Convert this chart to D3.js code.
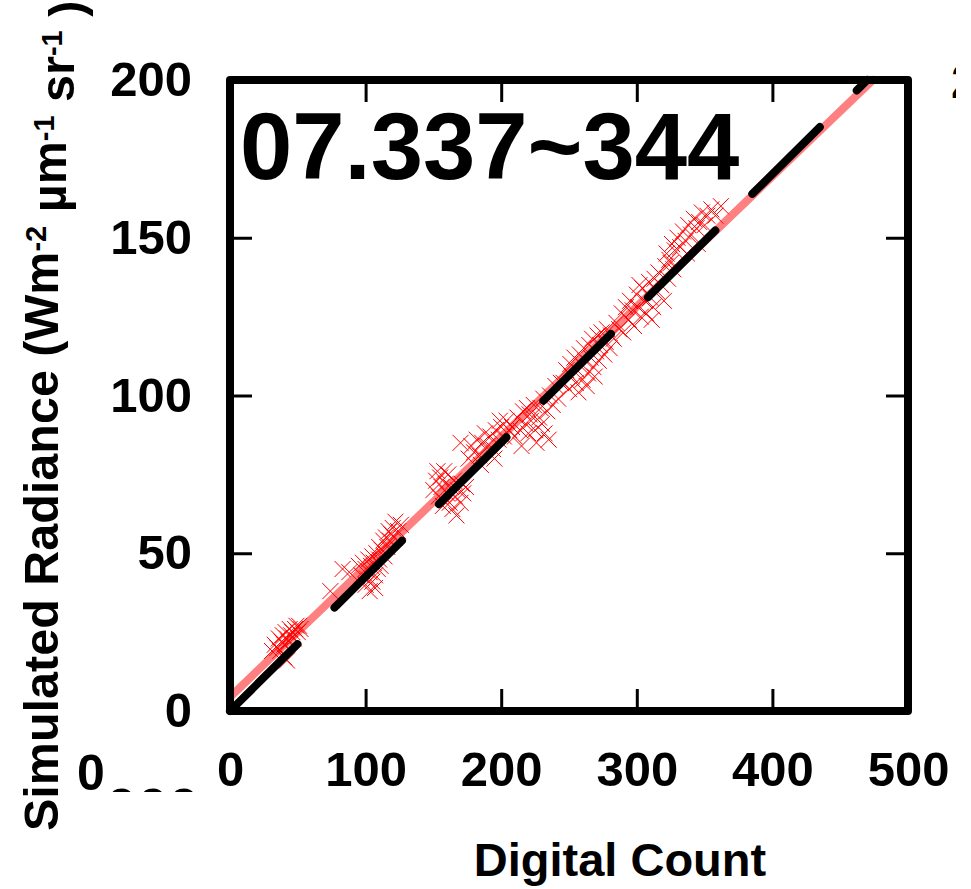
<!DOCTYPE html>
<html>
<head>
<meta charset="utf-8">
<script src="https://cdn.jsdelivr.net/npm/d3@7/dist/d3.min.js"></script>
<style>
  body { margin: 0; background: #fff; }
  #chart { width: 971px; height: 889px; }
  text { font-family: "Liberation Sans", Arial, sans-serif; font-weight: bold; fill: #000; }
</style>
</head>
<body>
<div id="chart"></div>
<script>
// ||================================||
// || DATA                           ||
// ||================================||

var title = "07.337~344"

var xTicks = [0, 100, 200, 300, 400, 500]
var yTicks = [0, 50, 100, 150, 200]

// [digital count, simulated radiance]
var samples = [
  [31,19],[33,21],[35,20],[36,23],[38,22],[39,24],[40,21],[41,25],[42,23],[43,22],[44,26],
  [45,24],[46,25],[47,23],[48,26],[49,27],[50,25],[51,27],[52,26],[40,17],[42,16],[37,19],
  [74,38],[83,45],[88,44],[95,46],[97,43],[98,47],[100,45],[101,42],[102,48],[103,44],[104,46],
  [105,41],[105,49],[106,47],[107,43],[108,50],[109,45],[110,48],[110,52],[111,46],[112,51],
  [113,54],[114,49],[115,55],[116,52],[117,57],[118,54],[119,56],[120,58],[121,55],[122,60],
  [124,57],[126,59],[103,38],[107,39],[100,40],
  [150,70],[152,73],[154,68],[155,74],[156,71],[158,76],[159,72],[160,69],[161,75],[162,66],
  [163,71],[164,64],[165,73],[166,68],[167,62],[168,70],[170,66],[171,72],[172,69],[174,71],
  [153,76],[157,65],
  [176,80],[178,84],[180,82],[182,86],[184,81],[186,85],[188,88],[190,84],[192,87],[194,83],
  [196,89],[198,86],[200,90],[202,87],[204,92],[206,89],[185,78],[195,80],[199,92],[170,85],
  [208,90],[210,87],[212,93],[214,89],[216,95],[218,91],[220,88],[221,94],[222,92],[224,97],
  [225,89],[226,85],[228,93],[229,96],[230,91],[231,99],[232,88],[234,95],[235,86],[236,100],
  [238,97],[240,103],[242,99],[244,104],[215,84],[219,96],
  [246,104],[248,108],[250,102],[251,110],[252,106],[254,112],[255,104],[256,108],[258,113],
  [259,110],[260,105],[261,115],[262,111],[264,107],[265,116],[266,112],[267,118],[268,109],
  [270,114],[271,119],[272,111],[273,116],[274,120],[276,113],[277,117],[278,121],[280,115],
  [281,119],[257,101],[263,103],[269,106],
  [283,118],[285,123],[287,121],[289,126],[290,120],[292,128],[294,124],[295,130],[297,127],
  [298,122],[300,132],[301,128],[303,125],[304,134],[306,130],[307,126],[309,136],[310,131],
  [312,128],[313,137],[315,133],[316,139],[318,135],[320,130],[321,141],[323,137],[325,142],
  [311,124],[302,135],
  [322,145],[324,143],[326,148],[328,146],[330,150],[332,147],[334,152],[336,149],[338,154],
  [340,151],[342,156],[344,153],[346,155],[348,158],[350,154],[352,157],[355,159],[358,157],
  [362,160],[345,148],[337,145],[327,140]
]

// fitted line and reference line, end points
var fitLine = [[0, 4.4], [474, 200]]
var refLine = [[0, 0], [470, 200]]

// ||================================||
// || SETUP                          ||
// ||================================||

var width = 971,
    height = 889;

var margin = {left: 230, right: 63, top: 80, bottom: 178}

var svg = d3.select("#chart")
  .append("svg")
    .attr("width", width)
    .attr("height", height);

var x = d3.scaleLinear()
    .domain([0, 500])
    .range([margin.left, width - margin.right]);

var y = d3.scaleLinear()
    .domain([0, 200])
    .range([height - margin.bottom, margin.top]);

// stray labels from neighbouring panels, clipped like the source
var defs = svg.append("defs")
defs.append("clipPath").attr("id", "clip-bottom")
  .append("rect").attr("x", 0).attr("y", 0).attr("width", 220).attr("height", 792)
defs.append("clipPath").attr("id", "clip-right")
  .append("rect").attr("x", 940).attr("y", 0).attr("width", 16).attr("height", 200)

svg.append("text")
    .attr("x", 91).attr("y", 790)
    .attr("text-anchor", "middle")
    .style("font-size", "50px")
    .text("0")

svg.append("text")
    .attr("x", 106).attr("y", 827)
    .attr("clip-path", "url(#clip-bottom)")
    .style("font-size", "56px")
    .text("000")

svg.append("text")
    .attr("x", 951).attr("y", 98)
    .attr("clip-path", "url(#clip-right)")
    .style("font-size", "48px")
    .text("200")

// ||================================||
// || MARKS                          ||
// ||================================||

var line = d3.line()
    .x(function(d) { return x(d[0]); })
    .y(function(d) { return y(d[1]); });

svg.append("path")
    .datum(fitLine)
    .attr("d", line)
    .attr("fill", "none")
    .attr("stroke", "#ff8080")
    .attr("stroke-width", 8)
    .attr("stroke-linecap", "round");

var s = 8
svg.append("g")
    .attr("class", "points")
  .selectAll("path")
  .data(samples)
  .enter().append("path")
    .attr("d", function(d) {
      var px = x(d[0]), py = y(d[1]);
      return "M" + (px - s) + "," + (py - s) + "L" + (px + s) + "," + (py + s) +
             "M" + (px - s) + "," + (py + s) + "L" + (px + s) + "," + (py - s);
    })
    .attr("stroke", "#ff0000")
    .attr("stroke-width", 1)
    .attr("fill", "none");

svg.append("path")
    .datum(refLine)
    .attr("d", line)
    .attr("fill", "none")
    .attr("stroke", "#000")
    .attr("stroke-width", 8)
    .attr("stroke-linecap", "round")
    .attr("stroke-dasharray", "95,52");

// ||================================||
// || FRAME, TICKS, LABELS           ||
// ||================================||

var tickLen = 22

var xAxisBottom = d3.axisBottom(x).tickValues(xTicks).tickSize(-tickLen).tickPadding(40)
var xAxisTop = d3.axisTop(x).tickValues(xTicks.slice(1, -1)).tickSize(-tickLen).tickFormat("")
var yAxisLeft = d3.axisLeft(y).tickValues(yTicks).tickSize(-tickLen).tickPadding(38)
var yAxisRight = d3.axisRight(y).tickValues(yTicks.slice(1, -1)).tickSize(-tickLen).tickFormat("")

function styleAxis(g) {
  g.select(".domain").remove()
  g.selectAll(".tick line").attr("stroke", "#000").attr("stroke-width", 3)
  g.selectAll(".tick text")
    .style("font-size", "49px")
    .style("font-family", "'Liberation Sans', Arial, sans-serif")
    .style("font-weight", "bold")
    .attr("fill", "#000")
}

svg.append("g")
    .attr("transform", "translate(0," + y(0) + ")")
    .call(xAxisBottom)
    .call(styleAxis)
    .selectAll(".tick text").attr("dy", "0.71em")

svg.append("g")
    .attr("transform", "translate(0," + y(200) + ")")
    .call(xAxisTop)
    .call(styleAxis)

svg.append("g")
    .attr("transform", "translate(" + x(0) + ",0)")
    .call(yAxisLeft)
    .call(styleAxis)

svg.append("g")
    .attr("transform", "translate(" + x(500) + ",0)")
    .call(yAxisRight)
    .call(styleAxis)

svg.append("rect")
    .attr("x", x(0))
    .attr("y", y(200))
    .attr("width", x(500) - x(0))
    .attr("height", y(0) - y(200))
    .attr("fill", "none")
    .attr("stroke", "#000")
    .attr("stroke-width", 8)
    .attr("stroke-linejoin", "round");

svg.append("text")
    .attr("x", 240)
    .attr("y", 179)
    .style("font-size", "94px")
    .text(title)

svg.append("text")
    .attr("x", 620)
    .attr("y", 876)
    .attr("text-anchor", "middle")
    .style("font-size", "47px")
    .text("Digital Count")

var ylab = svg.append("text")
    .attr("transform", "translate(58,831) rotate(-90)")
    .style("font-size", "48.5px")

ylab.append("tspan").text("Simulated Radiance (Wm")
ylab.append("tspan").attr("dy", "-0.42em").style("font-size", "29px").text("-2")
ylab.append("tspan").attr("dy", "0.42em").text(" \u00b5m")
ylab.append("tspan").attr("dy", "-0.42em").style("font-size", "29px").text("-1")
ylab.append("tspan").attr("dy", "0.42em").text(" sr")
ylab.append("tspan").attr("dy", "-0.42em").style("font-size", "29px").text("-1")
ylab.append("tspan").attr("dy", "0.42em").text(" )")
</script>
</body>
</html>
